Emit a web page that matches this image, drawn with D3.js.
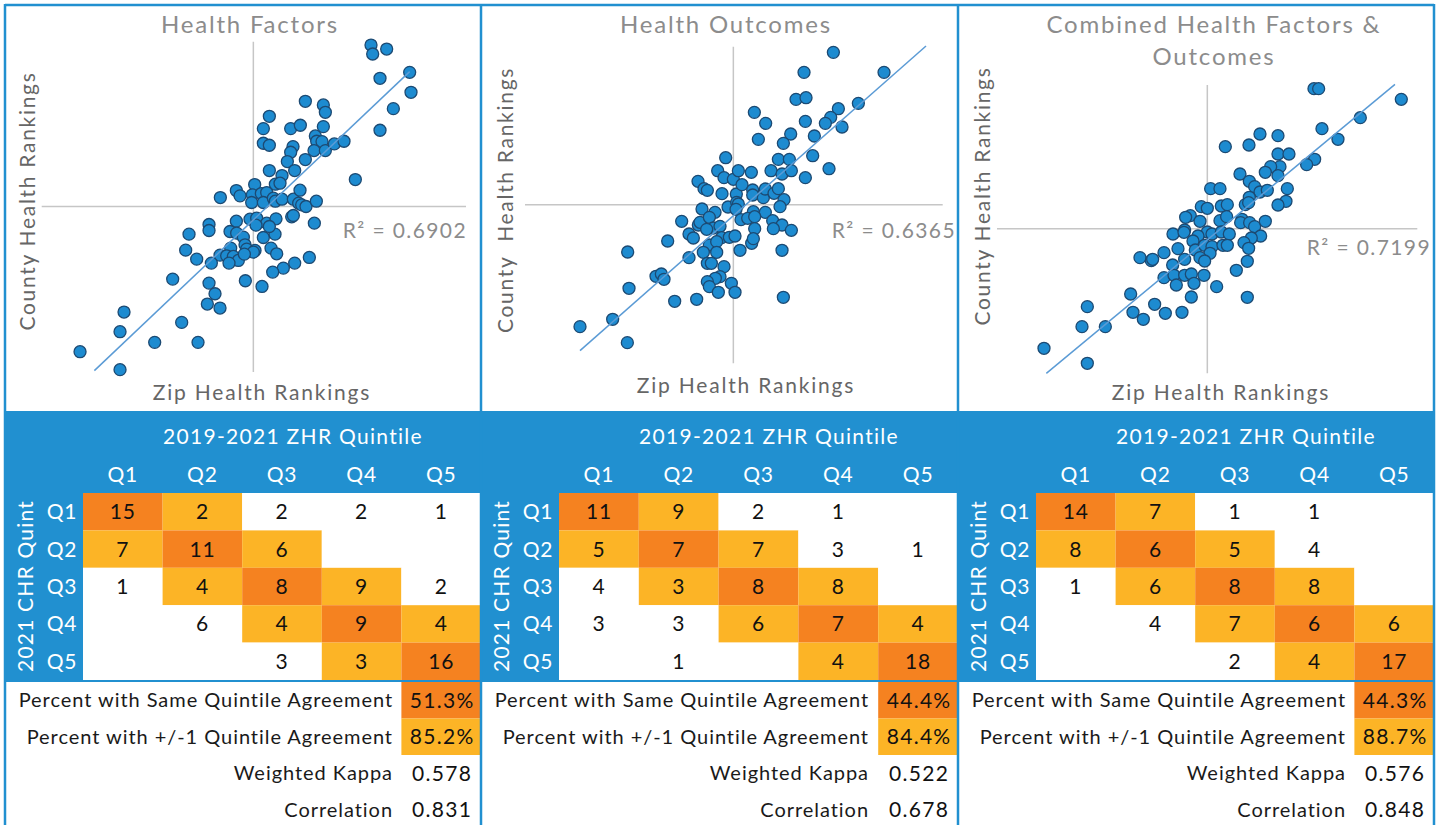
<!DOCTYPE html>
<html>
<head>
<meta charset="utf-8">
<script src="https://cdn.jsdelivr.net/npm/d3@7"></script>
<style>
  body { margin: 0; background: #fff; }
  text { font-family: Lato, "Noto Sans", sans-serif; }
</style>
</head>
<body>
<script>
const w = 1444;
const h = 825;

// Data

const titles = [["Health Factors"], ["Health Outcomes"], ["Combined Health Factors &", "Outcomes"]];
const rSquared = ["0.6902", "0.6365", "0.7199"];
const xTitle = "Zip Health Rankings";
const yTitles = ["County Health Rankings", "County  Health Rankings", "County Health Rankings"];

// rank scores, 0 = middle of the group
const factorsPoints = [
  [35.3, 48.5], [40, 47.3], [35.8, 45.8], [46.9, 40.3], [38, 38.5], [47.3, 34.3], [42, 29.4], [38, 22.9],
  [15.6, 31.6], [21, 30.5], [21.6, 28.3], [4.8, 27.1], [3, 23.4], [11.2, 23.4], [14.1, 24.4], [21, 24],
  [3, 19], [4.8, 18.4], [11.9, 18], [11.2, 16.3], [18.6, 21.2], [19, 19.6], [20.6, 19.5], [18.2, 16.8],
  [21.6, 16.8], [24.3, 18.8], [27.2, 19.6], [10.2, 13.5], [15.6, 14.1], [12.4, 10.8], [4.8, 10.8], [8.6, 9.3],
  [6.6, 6.7], [8, 7], [30.6, 8.1], [0.4, 6.6], [-5.1, 4.8], [-4, 3.2], [-0.3, 3.5], [2.4, 3.9],
  [4, 4.2], [-9.9, 2.7], [-0.5, 1.2], [3, 1.2], [6, 2.5], [6.6, 1.6], [8.6, 2.2], [12, 2.2],
  [14, 4.9], [13.6, 1], [14.5, 0.5], [15.8, 0], [18.9, 1.6], [-1, -3.8], [1, -3.5], [4, -5],
  [6.8, -3.7], [-5.1, -4.4], [-13.3, -5.4], [-13.3, -7.2], [0.8, -5.6], [11.5, -3.1], [12, -2.7], [18.3, -5],
  [-19.3, -8.3], [-7, -7.5], [-5, -8], [-3, -9.2], [-2.5, -11.5], [-6.8, -12.5], [-2, -12.8], [0.5, -13.2],
  [0, -13.7], [3, -9.3], [6.5, -8.3], [4.8, -6], [5.3, -12.5], [7, -14.2], [-10, -14.6], [-8, -14.8],
  [-6, -15], [-4.5, -16.2], [-7.3, -17], [-12.6, -17], [-17, -15.8], [-20.3, -13.1], [-2.7, -14.3], [12.4, -17],
  [16.8, -15.3], [9, -18.5], [5.8, -19.7], [-2.4, -22.3], [2.6, -24], [-24.2, -21.8], [-13.3, -23], [-11.5, -26.2],
  [-13.8, -29.3], [-10, -30.5], [-38.8, -31.7], [-40, -37.6], [-21.5, -34.8], [-29.6, -40.8], [-16.6, -40.8], [-52, -43.6],
  [-40, -49]
];

const outcomesPoints = [
  [30, 45.7], [21.2, 39.7], [45.2, 39.7], [18.8, 31.6], [21.8, 32.1], [37.5, 30.4], [31.5, 28.8], [29.2, 26.2],
  [27.6, 24.4], [32.6, 23.3], [6.3, 27.7], [9.7, 24.4], [21.6, 25], [7.5, 19.6], [17.2, 21.2], [15, 18.4],
  [24.3, 20.6], [23.8, 14.7], [28.7, 10.8], [21.6, 8.1], [-2.3, 14.1], [-4.7, 10.2], [-2.8, 8.1], [0, 7.6],
  [1.5, 10.2], [5.4, 9.7], [11.3, 10.2], [13.5, 13.6], [16.8, 13.6], [14.6, 9.2], [17.4, 10.2], [-10.6, 7],
  [-8.8, 4.8], [-7.8, 4.3], [-3.4, 3.3], [0.9, 3.2], [2.6, 6], [5.8, 4.4], [5.8, 2.9], [9, 2.1],
  [9.6, 4.7], [12.2, 3.4], [13.5, 4.8], [15.2, 1.5], [14, -0.6], [-9.4, -1.3], [-5.5, -2.3], [-1.6, -0.7],
  [1, 0.7], [1.5, 0.2], [0.8, -1.4], [6, -2.1], [9.6, -2.3], [-15.5, -5], [-10.5, -6.1], [-10, -5.3],
  [-7.2, -3.8], [-6, -7], [-4, -6.5], [-8, -7.4], [2.3, -4.5], [4.3, -4.1], [6.4, -3.6], [6.4, -7.2],
  [11.8, -4.8], [14.6, -6.1], [12, -7.2], [17.4, -7.7], [-13.3, -8.8], [-12, -10], [-19.7, -10.9], [-3.5, -9.9],
  [-1.2, -9.8], [0.5, -9.4], [-7.2, -12.1], [-5, -11.1], [5.5, -11.6], [6, -10.2], [-9, -14.3], [-5, -14.3],
  [2, -13.7], [14.6, -13.7], [-13.3, -15.9], [-7.8, -17.6], [-6.6, -17.6], [-2.8, -18.6], [-4, -21.6], [-5.4, -22.1],
  [-7.8, -23.1], [-7.2, -24.6], [-0.6, -23.6], [0.5, -26.3], [-4.5, -26.3], [-31.7, -14.2], [-31.3, -25.1], [-23.2, -21.5],
  [-21.6, -20.8], [-20.8, -22.4], [-17.6, -29], [-11, -28.4], [15, -27.8], [-36.2, -34.4], [-46, -36.6], [-31.8, -41.4]
];

const combinedPoints = [
  [32, 42], [33.4, 42], [58.2, 38.8], [45.9, 33.3], [34.4, 30], [39.2, 26.8], [32.2, 20.8], [29.8, 19.2],
  [15.8, 28.4], [21.2, 27.9], [12.5, 25.1], [5.4, 24.6], [21.2, 22.4], [24.5, 22.4], [21.8, 18.6], [19, 18.6],
  [17.4, 16.9], [21.2, 15.9], [9.8, 16.4], [12.6, 14.2], [14.2, 12.6], [15.8, 11], [18, 11.5], [24, 12],
  [23.6, 8.2], [21.2, 7.1], [1, 12], [3.8, 12], [12.6, 9.4], [11.4, 7.2], [12.4, 7.8], [-1.8, 6.6],
  [0, 6.1], [4.2, 6.8], [6, 7.2], [-5.1, 3.9], [-6.5, 3.4], [-2.2, 2.2], [3.8, 2.4], [5.8, 3.6],
  [10.4, 2.8], [10, 1.8], [12.7, 1.8], [14.2, 0.6], [17.4, 2.2], [-10.3, -1.6], [-6.8, -0.4], [-7, -1.1],
  [0, -1], [-2.8, -2.2], [1.4, -1.6], [4.2, -1], [6.6, -1.6], [16, -2.2], [13.2, -2.8], [11, -4.2],
  [12.4, -5.9], [-4.3, -3.7], [-8.8, -6], [-13, -7.2], [-3.6, -6.4], [-0.8, -5], [1.4, -5.4], [4.7, -5],
  [6, -5], [0.8, -7.4], [-2.2, -8.7], [-0.8, -9.7], [-6.8, -9.2], [-10.4, -10.9], [-20.2, -8.7], [-16.8, -9.6],
  [-16.4, -9.2], [12, -9.8], [8.7, -12.5], [-13, -14.7], [-10, -14], [-6.8, -14], [-4.8, -13.6], [-9.3, -16.9],
  [-4, -16.4], [-1, -14], [2.8, -17.4], [-4.8, -20.5], [12, -20.6], [-23, -19.6], [-22.3, -25.1], [-19.2, -27.2],
  [-15.8, -22.7], [-12.6, -25.4], [-7.6, -25.1], [-36, -23.4], [-37.6, -29.4], [-30.6, -29.4], [-49, -35.9], [-36, -40.4]
];

const trendLines = [
  [[-47.7, -49.3], [46.9, 40.5]],
  [[-46, -43.8], [57.8, 47.6]],
  [[-48.3, -43.4], [56.3, 43.3]]
];

const xDomains = [[-63.5, 63.8], [-62.5, 62.8], [-63.1, 63]];
const yDomains = [[-49.7, 49.5], [-47.6, 47.4], [-43.4, 43.1]];

const quintiles = ["Q1", "Q2", "Q3", "Q4", "Q5"];
const matrixTitle = "2019-2021 ZHR Quintile";
const rowTitle = "2021 CHR Quint";

const factorsMatrix = [
  [15, 2, 2, 2, 1],
  [7, 11, 6, null, null],
  [1, 4, 8, 9, 2],
  [null, 6, 4, 9, 4],
  [null, null, 3, 3, 16]
];
const outcomesMatrix = [
  [11, 9, 2, 1, null],
  [5, 7, 7, 3, 1],
  [4, 3, 8, 8, null],
  [3, 3, 6, 7, 4],
  [null, 1, null, 4, 18]
];
const combinedMatrix = [
  [14, 7, 1, 1, null],
  [8, 6, 5, 4, null],
  [1, 6, 8, 8, null],
  [null, 4, 7, 6, 6],
  [null, null, 2, 4, 17]
];

const statLabels = [
  "Percent with Same Quintile Agreement",
  "Percent with +/-1 Quintile Agreement",
  "Weighted Kappa",
  "Correlation"
];
const sameAgreement = ["51.3%", "44.4%", "44.3%"];
const nearAgreement = ["85.2%", "84.4%", "88.7%"];
const weightedKappa = ["0.578", "0.522", "0.576"];
const correlation = ["0.831", "0.678", "0.848"];

const pointSets = [factorsPoints, outcomesPoints, combinedPoints];
const matrices = [factorsMatrix, outcomesMatrix, combinedMatrix];
const statValues = [0, 1, 2].map((i) => [sameAgreement[i], nearAgreement[i], weightedKappa[i], correlation[i]]);

// Colors

const blue = "#2190d0";
const orange = "#f58220";
const yellow = "#fcb426";
const grey = "#8c8c8c";

// Layout

const edges = [5, 481, 958, 1434];
const frames = [
  { x: [41.7, 466], y: [372, 41.7], title: 250, r2: [467, 238], xt: [262, 400], yt: [35, 201] },
  { x: [525, 942.7], y: [363.3, 46.7], title: 726, r2: [956, 238], xt: [746, 393], yt: [513, 200] },
  { x: [997, 1417.3], y: [373.3, 85], title: 1214, r2: [1431, 255], xt: [1221, 400], yt: [990, 196] }
];

// SVG

const svg = d3.select("body").append("svg").attr("width", w).attr("height", h);

// Scatter panels

frames.forEach((f, i) => {
  const x = d3.scaleLinear().domain(xDomains[i]).range(f.x);
  const y = d3.scaleLinear().domain(yDomains[i]).range(f.y);
  const g = svg.append("g");

  g.append("line")
    .attr("x1", x(0)).attr("x2", x(0))
    .attr("y1", y(yDomains[i][0])).attr("y2", y(yDomains[i][1]))
    .attr("stroke", "#c6c6c6").attr("stroke-width", 1.5);
  g.append("line")
    .attr("x1", x(xDomains[i][0])).attr("x2", x(xDomains[i][1]))
    .attr("y1", y(0)).attr("y2", y(0))
    .attr("stroke", "#c6c6c6").attr("stroke-width", 1.5);

  g.append("g")
    .selectAll("circle")
    .data(pointSets[i])
    .join("circle")
    .attr("cx", (d) => x(d[0]))
    .attr("cy", (d) => y(d[1]))
    .attr("r", 6)
    .attr("fill", "#1d8bd0")
    .attr("stroke", "#1c4a73")
    .attr("stroke-width", 1.3);

  g.append("line")
    .attr("x1", x(trendLines[i][0][0])).attr("y1", y(trendLines[i][0][1]))
    .attr("x2", x(trendLines[i][1][0])).attr("y2", y(trendLines[i][1][1]))
    .attr("stroke", "#5b9bd5").attr("stroke-width", 1.5);

  g.selectAll(".title")
    .data(titles[i])
    .join("text")
    .attr("x", f.title)
    .attr("y", (d, k) => 33 + k * 32)
    .attr("text-anchor", "middle")
    .attr("font-size", 24)
    .attr("letter-spacing", 1.8)
    .attr("fill", grey)
    .text((d) => d);

  g.append("text")
    .attr("x", f.r2[0]).attr("y", f.r2[1])
    .attr("text-anchor", "end")
    .attr("font-size", 21)
    .attr("letter-spacing", 1.4)
    .attr("fill", grey)
    .text("R² = " + rSquared[i]);

  g.append("text")
    .attr("x", f.xt[0]).attr("y", f.xt[1])
    .attr("text-anchor", "middle")
    .attr("font-size", 21)
    .attr("letter-spacing", 1.8)
    .attr("fill", "#666")
    .text(xTitle);

  g.append("text")
    .attr("transform", `translate(${f.yt[0]},${f.yt[1]}) rotate(-90)`)
    .attr("text-anchor", "middle")
    .attr("font-size", 21)
    .attr("letter-spacing", 1.7)
    .attr("fill", "#666")
    .style("white-space", "pre")
    .text(yTitles[i]);
});

// Quintile matrices

matrices.forEach((m, i) => {
  const left = edges[i];
  const right = edges[i + 1];
  const col = d3.scaleBand().domain(quintiles).range([left + 78, right]);
  const row = d3.scaleBand().domain(quintiles).range([493, 680]);
  const g = svg.append("g");

  g.append("rect").attr("x", left).attr("y", 411).attr("width", right - left).attr("height", 82).attr("fill", blue);
  g.append("rect").attr("x", left).attr("y", 411).attr("width", 78).attr("height", 269).attr("fill", blue);

  g.append("text")
    .attr("x", left + 288).attr("y", 444)
    .attr("text-anchor", "middle")
    .attr("font-size", 21)
    .attr("letter-spacing", 1.3)
    .attr("fill", "#fff")
    .text(matrixTitle);

  g.selectAll(".colLabel")
    .data(quintiles)
    .join("text")
    .attr("x", (d) => col(d) + col.bandwidth() / 2)
    .attr("y", 482)
    .attr("text-anchor", "middle")
    .attr("font-size", 21)
    .attr("letter-spacing", 0.8)
    .attr("fill", "#fff")
    .text((d) => d);

  g.selectAll(".rowLabel")
    .data(quintiles)
    .join("text")
    .attr("x", left + 57)
    .attr("y", (d) => row(d) + row.bandwidth() / 2)
    .attr("dy", "0.36em")
    .attr("text-anchor", "middle")
    .attr("font-size", 21)
    .attr("letter-spacing", 0.8)
    .attr("fill", "#fff")
    .text((d) => d);

  g.append("text")
    .attr("transform", `translate(${left + 28},${586}) rotate(-90)`)
    .attr("text-anchor", "middle")
    .attr("font-size", 21)
    .attr("letter-spacing", 1.2)
    .attr("fill", "#fff")
    .text(rowTitle);

  const cells = m.flatMap((r, ri) => r.map((v, ci) => ({ r: ri, c: ci, v })));

  g.selectAll(".cell")
    .data(cells)
    .join("rect")
    .attr("x", (d) => col(quintiles[d.c]))
    .attr("y", (d) => row(quintiles[d.r]))
    .attr("width", col.bandwidth())
    .attr("height", row.bandwidth())
    .attr("fill", (d) => (d.r === d.c ? orange : Math.abs(d.r - d.c) === 1 ? yellow : "#fff"));

  g.selectAll(".val")
    .data(cells.filter((d) => d.v !== null))
    .join("text")
    .attr("x", (d) => col(quintiles[d.c]) + col.bandwidth() / 2)
    .attr("y", (d) => row(quintiles[d.r]) + row.bandwidth() / 2)
    .attr("dy", "0.36em")
    .attr("text-anchor", "middle")
    .attr("font-size", 21)
    .attr("letter-spacing", 0.8)
    .attr("fill", "#111")
    .text((d) => d.v);

  // Stats

  const stat = d3.scaleBand().domain(statLabels).range([682, 828]);
  const valueX = col("Q5");

  g.selectAll(".statCell")
    .data(statLabels.slice(0, 2))
    .join("rect")
    .attr("x", valueX)
    .attr("y", (d) => stat(d))
    .attr("width", col.bandwidth())
    .attr("height", stat.bandwidth())
    .attr("fill", (d, k) => (k === 0 ? orange : yellow));

  g.selectAll(".statLabel")
    .data(statLabels)
    .join("text")
    .attr("x", left + 388)
    .attr("y", (d) => stat(d) + stat.bandwidth() / 2)
    .attr("dy", "0.36em")
    .attr("text-anchor", "end")
    .attr("font-size", 20)
    .attr("letter-spacing", 0.95)
    .attr("fill", "#1a1a1a")
    .text((d) => d);

  g.selectAll(".statValue")
    .data(statValues[i])
    .join("text")
    .attr("x", valueX + col.bandwidth() / 2 + 1)
    .attr("y", (d, k) => stat(statLabels[k]) + stat.bandwidth() / 2)
    .attr("dy", "0.36em")
    .attr("text-anchor", "middle")
    .attr("font-size", 21)
    .attr("letter-spacing", 1.3)
    .attr("fill", "#111")
    .text((d) => d);
});

// Borders

svg.append("line").attr("x1", edges[0]).attr("x2", edges[3]).attr("y1", 5).attr("y2", 5)
  .attr("stroke", blue).attr("stroke-width", 2.5);
svg.append("line").attr("x1", edges[0]).attr("x2", edges[3]).attr("y1", 681).attr("y2", 681)
  .attr("stroke", blue).attr("stroke-width", 2);
svg.append("g")
  .selectAll("line")
  .data(edges)
  .join("line")
  .attr("x1", (d) => d).attr("x2", (d) => d)
  .attr("y1", 4).attr("y2", h)
  .attr("stroke", blue)
  .attr("stroke-width", 2.5);
</script>
</body>
</html>
